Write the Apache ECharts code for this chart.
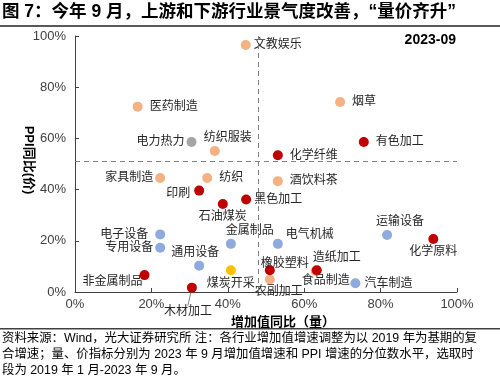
<!DOCTYPE html>
<html><head><meta charset="utf-8">
<script src="https://cdn.jsdelivr.net/npm/echarts@6/dist/echarts.min.js"></script>
<style>html,body{margin:0;padding:0;background:#fff}#c{width:500px;height:383px}</style>
</head><body><div id="c"></div>
<script>
const industries = ['文教娱乐','医药制造','电力热力','纺织服装','烟草','有色加工','化学纤维','家具制造','纺织','印刷','石油煤炭','黑色加工','酒饮料茶','电子设备','专用设备','通用设备','金属制品','电气机械','煤炭开采','非金属制品','木材加工','橡胶塑料','农副加工','造纸加工','食品制造','汽车制造','运输设备','化学原料'];
const volume = [44.7,16.4,30.5,36.6,69.4,75.6,53.1,22.3,34.6,32.5,38.7,44.8,53.1,22.3,22.3,32.5,40.8,53.1,40.8,18.2,30.6,51.0,51.0,63.3,63.0,73.4,81.7,93.8];
const price  = [96.5,72.4,58.6,55.1,74.2,58.6,53.4,44.5,44.5,39.6,34.4,36.1,43.3,22.5,17.3,10.3,18.8,18.8,8.5,6.6,1.7,8.5,4.9,8.5,8.2,3.4,22.3,20.7];
const groups = ['消费','消费','公用','消费','消费','原材料','原材料','消费','消费','原材料','原材料','原材料','消费','设备','设备','设备','设备','设备','采矿','原材料','原材料','原材料','消费','原材料','消费','设备','设备','原材料'];
const groupOrder = ['消费','公用','设备','采矿','原材料'];
const dividerX = 48;
const dividerY = 51;
const xTicks = [0,20,40,60,80,100];
const yTicks = [0,20,40,60,80,100];
const periodLabel = '2023-09';
const titleText = '图 7：今年 9 月，上游和下游行业景气度改善，“量价齐升”';
const xAxisTitle = '增加值同比（量）';
const yAxisTitle = 'PPI同比(价)';
const noteLines = ['资料来源：Wind，光大证券研究所 注：各行业增加值增速调整为以 2019 年为基期的复','合增速；量、价指标分别为 2023 年 9 月增加值增速和 PPI 增速的分位数水平，选取时','段为 2019 年 1 月-2023 年 9 月。'];

const colors = {'消费':'#F4B183','公用':'#A5A5A5','设备':'#8FAADC','采矿':'#FFC000','原材料':'#C00000'};
const FONT = "'Liberation Sans','Noto Sans CJK SC',sans-serif";
// label placement (style): position, distance, and pixel shift [dx, dy]
const labelCfg = {
 '文教娱乐':['right',3],
 '医药制造':['right',7],
 '电力热力':['left',2],
 '纺织服装':['top',2,[13,0]],
 '烟草':['right',7],
 '有色加工':['right',7],
 '化学纤维':['right',7],
 '家具制造':['left',2],
 '纺织':['right',7],
 '印刷':['left',4,[0,3]],
 '石油煤炭':['bottom',2],
 '黑色加工':['right',3],
 '酒饮料茶':['right',7],
 '电子设备':['left',7],
 '专用设备':['left',2],
 '通用设备':['top',2,[-4,0]],
 '金属制品':['top',2,[19,0]],
 '电气机械':['right',3,[0,-9]],
 '煤炭开采':['bottom',2],
 '非金属制品':['left',5,[8,7]],
 '木材加工':['bottom',2,[-4,11]],
 '橡胶塑料':['top',1,[15,5]],
 '农副加工':['bottom',2,[9,-1]],
 '造纸加工':['top',2,[20,0]],
 '食品制造':['bottom',2,[10,-3]],
 '汽车制造':['right',4],
 '运输设备':['top',2,[13,0]],
 '化学原料':['bottom',2]
};
const leaderNames = ['木材加工'];

const series = groupOrder.map((g, gi) => {
  const data = [];
  industries.forEach((n, i) => {
    if (groups[i] !== g) return;
    const cfg = labelCfg[n] || ['right',5];
    const item = {name:n, value:[volume[i], price[i]], label:{position:cfg[0], distance:cfg[1]}};
    if (leaderNames.indexOf(n) >= 0) item.labelLine = {show:true, lineStyle:{color:'#7f7f7f', width:1}};
    data.push(item);
  });
  const s = {
    type:'scatter', name:g, data, symbolSize:10, z: 2+gi,
    itemStyle:{color:colors[g], opacity:1},
    label:{show:true, formatter:'{b}', fontSize:12, color:'#262626', fontFamily:FONT},
    labelLine:{show:false},
    labelLayout: function (p) {
      const n = data[p.dataIndex] && data[p.dataIndex].name;
      const cfg = labelCfg[n];
      if (cfg && cfg[2]) return {dx:cfg[2][0], dy:cfg[2][1]};
      return {dx:0, dy:0};
    },
    emphasis:{disabled:true}
  };
  if (gi === 0) {
    s.markLine = {silent:true, symbol:'none', label:{show:false},
      lineStyle:{type:[5,4], color:'#808080', width:1},
      data:[{xAxis:dividerX},{yAxis:dividerY}]};
  }
  return s;
});

const chart = echarts.init(document.getElementById('c'), null, {renderer:'canvas'});
chart.setOption({
  animation:false,
  backgroundColor:'#fff',
  grid:{left:75, right:43, top:36, bottom:91},
  xAxis:{type:'value', min:xTicks[0], max:xTicks[xTicks.length-1], interval:20,
    name:xAxisTitle, nameLocation:'middle', nameGap:20,
    nameTextStyle:{fontSize:13, fontWeight:'bold', color:'#000', fontFamily:FONT, padding:[0,0,0,34]},
    axisLine:{lineStyle:{color:'#404040', width:1}},
    axisTick:{show:true, inside:true, length:4, lineStyle:{color:'#404040'}},
    axisLabel:{formatter:'{value}%', fontSize:13, color:'#404040', fontFamily:FONT, margin:6},
    splitLine:{show:false}},
  yAxis:{type:'value', min:yTicks[0], max:yTicks[yTicks.length-1], interval:20,
    axisLine:{show:true, lineStyle:{color:'#404040', width:1}},
    axisTick:{show:true, inside:true, length:4, lineStyle:{color:'#404040'}},
    axisLabel:{formatter:'{value}%', fontSize:13, color:'#404040', fontFamily:FONT, margin:9},
    splitLine:{show:false}},
  series,
  graphic:[
    {type:'text', left:2, top:3, style:{text:titleText, font:"bold 17.5px "+FONT, fill:'#000'}},
    {type:'rect', left:0, top:25, shape:{width:500, height:2}, style:{fill:'#595959'}},
    {type:'text', right:44, top:33, style:{text:periodLabel, font:"bold 14px "+FONT, fill:'#000'}},
    {type:'text', x:29, y:160, rotation:-Math.PI/2, style:{text:yAxisTitle, font:"bold 13px "+FONT, fill:'#000', align:'center', verticalAlign:'middle'}},
    {type:'rect', left:0, top:328, shape:{width:500, height:1.5}, style:{fill:'#404040'}},
    {type:'text', left:2, top:331, style:{text:noteLines.join('\n'), font:"12.4px "+FONT, lineHeight:16, fill:'#000'}}
  ]
});
</script></body></html>
